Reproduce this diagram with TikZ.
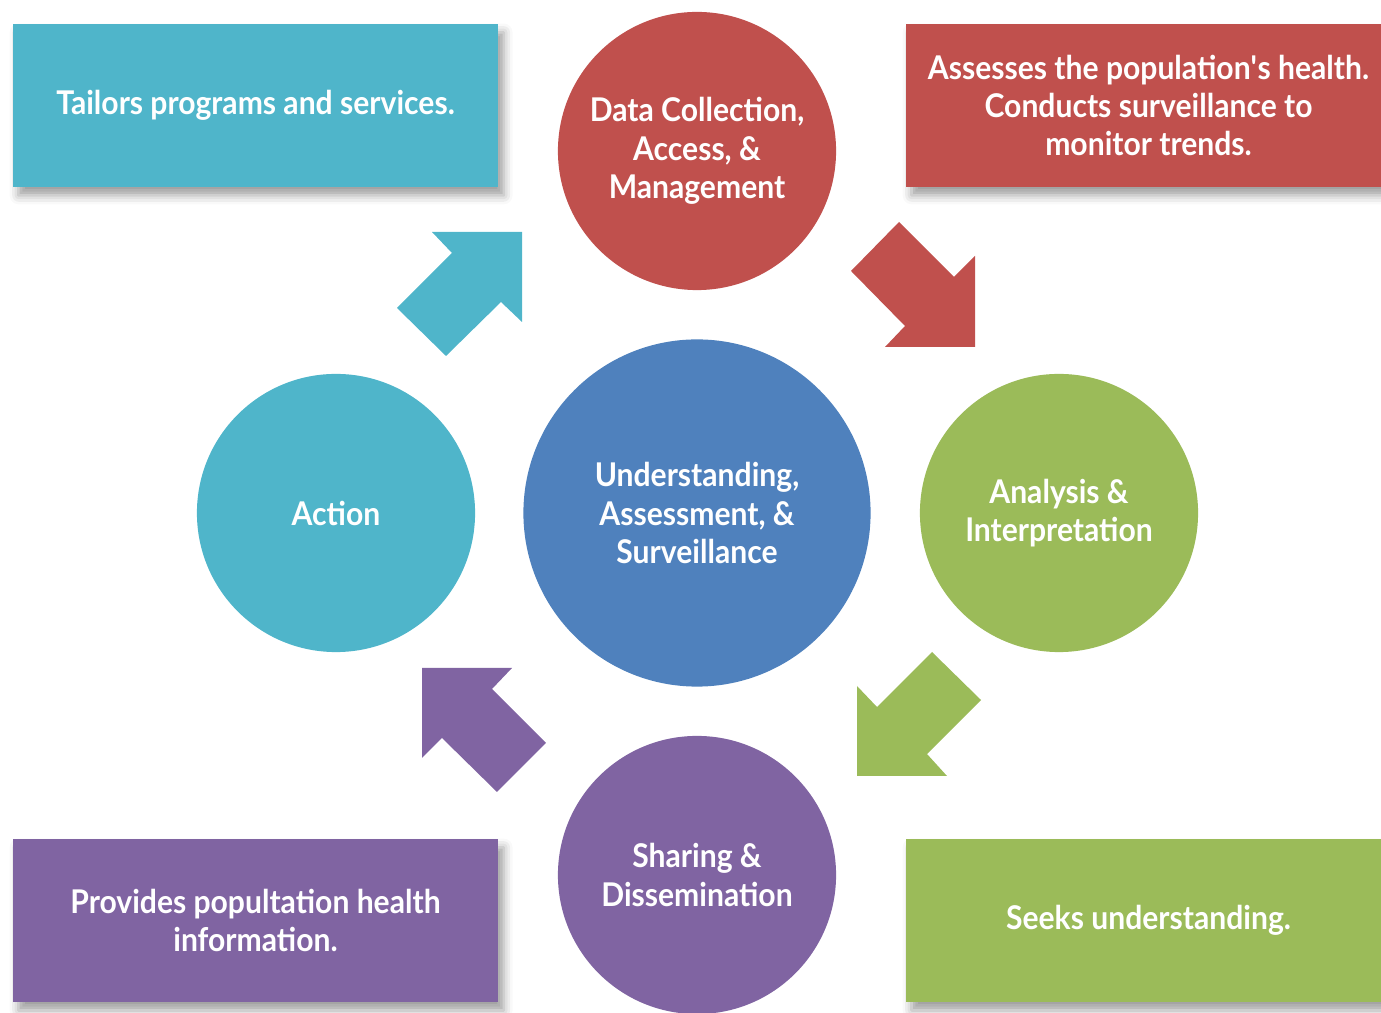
\documentclass[tikz,border=0pt]{standalone}
\usepackage{fontspec}
\setmainfont{Lato}[FakeStretch=0.92]
\usetikzlibrary{shadows.blur}

\definecolor{tealc}{HTML}{4FB5CA}
\definecolor{redc}{HTML}{C0504D}
\definecolor{bluec}{HTML}{4F81BD}
\definecolor{greenc}{HTML}{9BBB59}
\definecolor{purplec}{HTML}{8064A2}

\tikzset{
  infobox/.style={shape=rectangle, fill=#1, text=white, inner sep=0, minimum width=4.85cm, minimum height=1.63cm, align=center, font=\bfseries\fontsize{9.3}{10.9}\selectfont, blur shadow={shadow xshift=1.6pt, shadow yshift=-2.4pt, shadow blur radius=2.5pt, shadow opacity=38}},
  stage/.style={shape=circle, fill=#1, text=white, inner sep=0, minimum size=2.78cm, align=center, font=\bfseries\fontsize{9.3}{10.9}\selectfont},
}

\begin{document}
\begin{tikzpicture}[x=0.01cm, y=-0.01cm]
        \useasboundingbox (0,0) rectangle (1381,1013);
        % Boxes:
        \node[infobox=tealc] (tailors) at (255.5,105.5) {Tailors programs and services.};
        \node[infobox=redc] (assesses) at (1148.5,105.5) {Assesses the population\textquotesingle s health.\\Conducts surveillance to\\monitor trends.};
        \node[infobox=purplec] (provides) at (255.5,920.5) {Provides popultation health\\information.};
        \node[infobox=greenc] (seeks) at (1148.5,920.5) {Seeks understanding.};
        % Circles:
        \node[stage=bluec, minimum size=3.47cm] (core) at (697,513) {Understanding,\\Assessment, \&\\Surveillance};
        \node[stage=redc] (collect) at (697,151) {Data Collection,\\Access, \&\\Management};
        \node[stage=greenc] (analysis) at (1059,513) {Analysis \&\\Interpretation};
        \node[stage=purplec] (sharing) at (697,875) {Sharing \&\\Dissemination};
        \node[stage=tealc] (action) at (336,513) {Action};
        % Block arrows:
        \fill[redc] (899,222) -- (954,277) -- (975,256) -- (975,347) -- (885,347) -- (905,326) -- (851,271) -- cycle;
        \fill[greenc] (932,652) -- (981,700) -- (927,754) -- (947,776) -- (857,776) -- (857,686) -- (877,707) -- cycle;
        \fill[purplec] (422,668) -- (512,668) -- (492,689) -- (546,743) -- (497,792) -- (442,738) -- (422,758) -- cycle;
        \fill[tealc] (432,232) -- (522,232) -- (522,322) -- (501,302) -- (446,356) -- (397,308) -- (452,253) -- cycle;
      \end{tikzpicture}
\end{document}
